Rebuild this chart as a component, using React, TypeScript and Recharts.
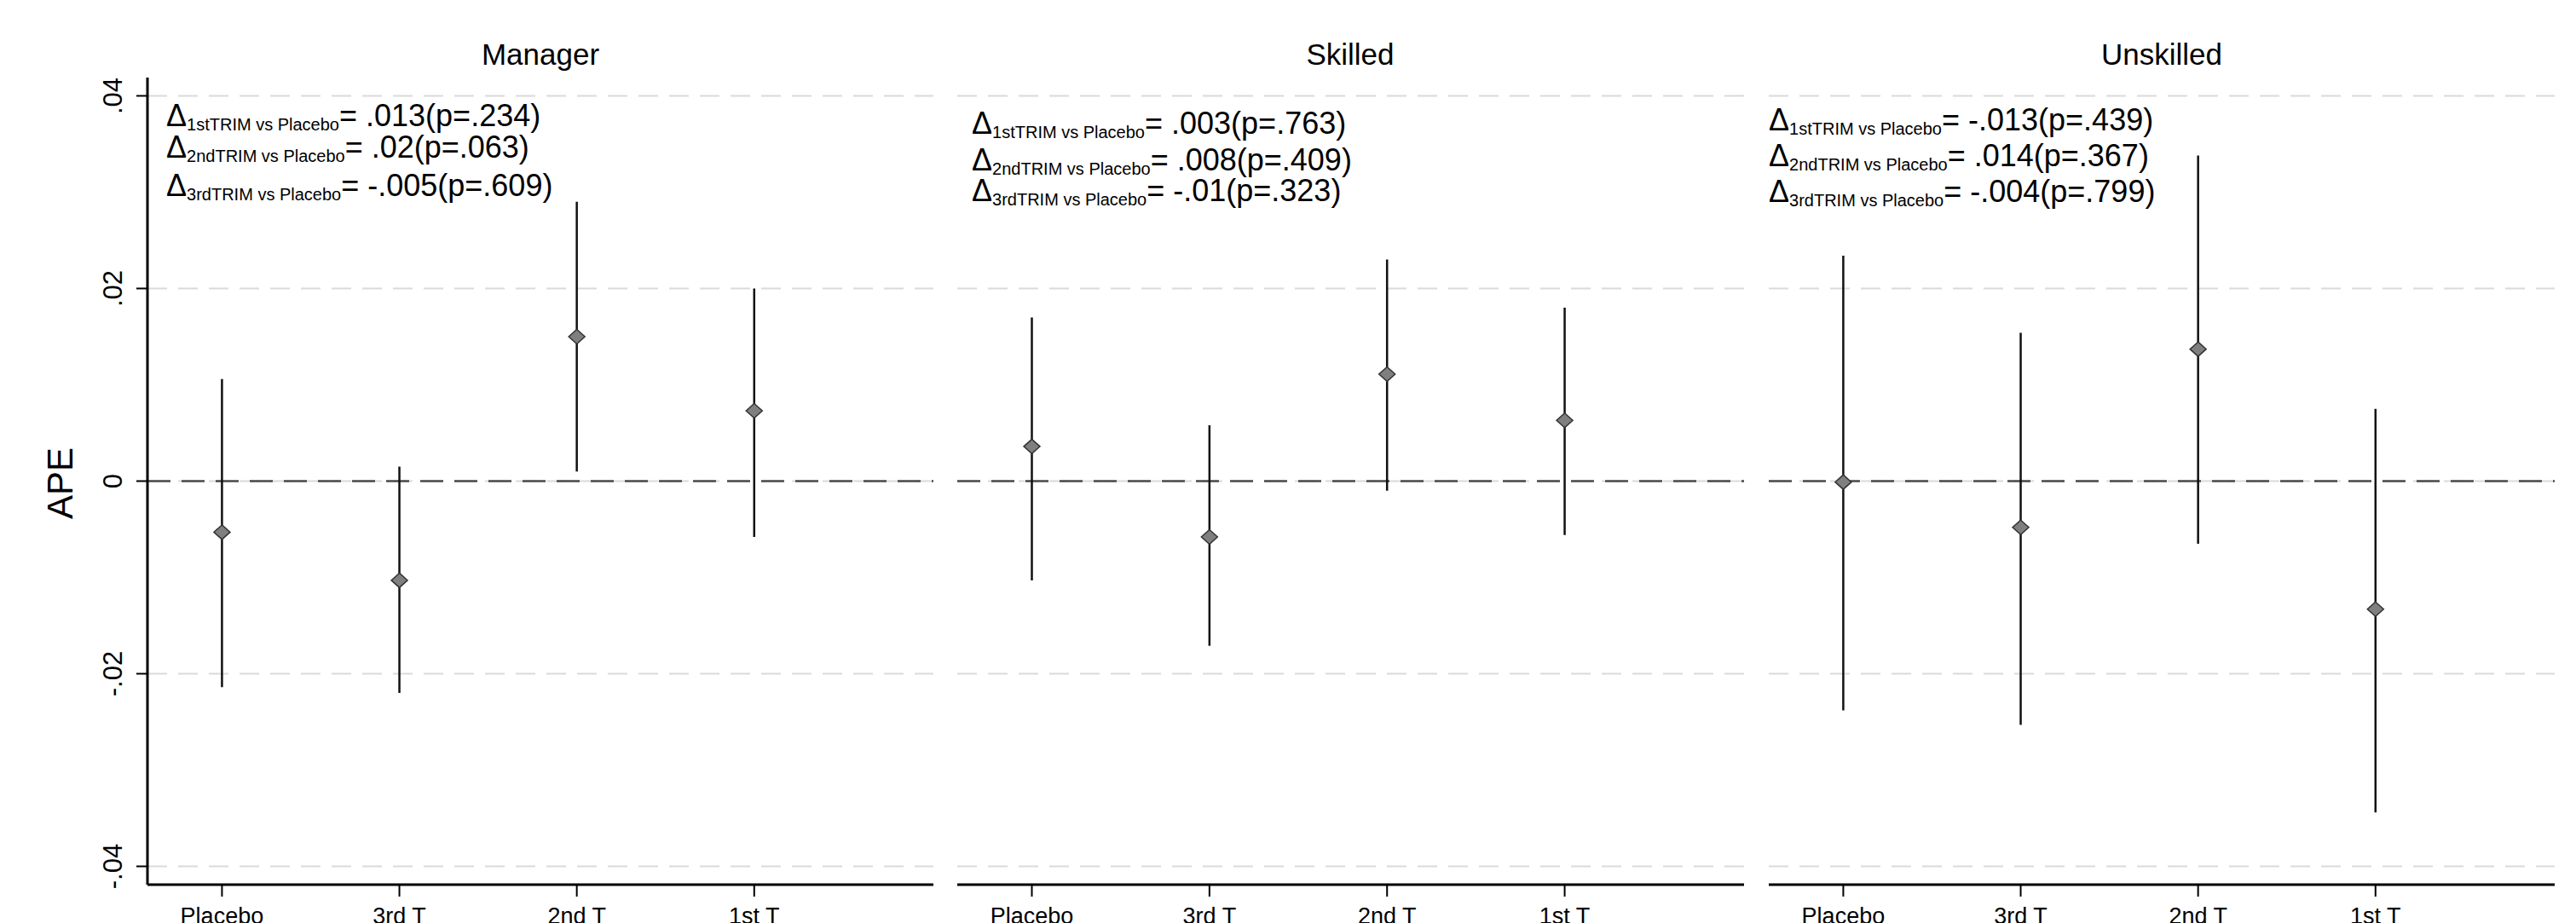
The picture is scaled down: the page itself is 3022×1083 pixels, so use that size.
import React from "react";
import {
  ComposedChart,
  Scatter,
  ErrorBar,
  XAxis,
  YAxis,
  CartesianGrid,
  ReferenceLine,
} from "recharts";

// ---------- data ----------
const categories = ["Placebo", "3rd T", "2nd T", "1st T"];
const categoryPositions = [1, 2, 3, 4];
const yTicks = [-0.04, -0.02, 0, 0.02, 0.04];
const yTickLabels = ["-.04", "-.02", "0", ".02", ".04"];

const panelTitles = ["Manager", "Skilled", "Unskilled"];

const managerAPE = [-0.0053, -0.0103, 0.015, 0.0073];
const managerLo = [-0.0214, -0.022, 0.001, -0.0058];
const managerHi = [0.0106, 0.0015, 0.029, 0.02];

const skilledAPE = [0.0036, -0.0058, 0.0111, 0.0063];
const skilledLo = [-0.0103, -0.0171, -0.001, -0.0056];
const skilledHi = [0.017, 0.0058, 0.023, 0.018];

const unskilledAPE = [-0.0001, -0.0048, 0.0137, -0.0133];
const unskilledLo = [-0.0238, -0.0253, -0.0065, -0.0344];
const unskilledHi = [0.0234, 0.0154, 0.0338, 0.0075];

const contrastLabels = ["1stTRIM vs Placebo", "2ndTRIM vs Placebo", "3rdTRIM vs Placebo"];
const managerDelta = [0.013, 0.02, -0.005];
const managerP = [0.234, 0.063, 0.609];
const skilledDelta = [0.003, 0.008, -0.01];
const skilledP = [0.763, 0.409, 0.323];
const unskilledDelta = [-0.013, 0.014, -0.004];
const unskilledP = [0.439, 0.367, 0.799];

// ---------- layout / style ----------
const FONT = "'Liberation Sans', Arial, Helvetica, sans-serif";
const H = 1083;
const PLOT_TOP = 91;
const XAXIS_H = 45;
const X_DOMAIN: [number, number] = [0.58, 5.01];
const Y_DOMAIN: [number, number] = [-0.0419, 0.0419];

const panelLayout = [
  { left: 0, width: 1110, marginLeft: 0, marginRight: 15, yAxisWidth: 173, textX: 195, textY: [148, 185, 230] },
  { left: 1110, width: 950, marginLeft: 13, marginRight: 14, yAxisWidth: 0, textX: 1140, textY: [157, 200, 236] },
  { left: 2062, width: 960, marginLeft: 13, marginRight: 25, yAxisWidth: 0, textX: 2075, textY: [153, 195, 237] },
];

const fmt = (v: number) => (v < 0 ? "-" : "") + String(Math.abs(v)).replace(/^0/, "");

const buildRows = (ape: number[], lo: number[], hi: number[]) =>
  categoryPositions.map((x, i) => ({
    x,
    y: ape[i],
    err: [ape[i] - lo[i], hi[i] - ape[i]],
  }));

const panels = [
  { rows: buildRows(managerAPE, managerLo, managerHi), delta: managerDelta, p: managerP },
  { rows: buildRows(skilledAPE, skilledLo, skilledHi), delta: skilledDelta, p: skilledP },
  { rows: buildRows(unskilledAPE, unskilledLo, unskilledHi), delta: unskilledDelta, p: unskilledP },
];

const Diamond = (props: any) => {
  const { cx, cy } = props;
  if (cx == null || cy == null) return null;
  return (
    <polygon
      points={`${cx},${cy - 8.5} ${cx + 9.5},${cy} ${cx},${cy + 8.5} ${cx - 9.5},${cy}`}
      fill="#7f7f7f"
      stroke="#333"
      strokeWidth={1.5}
    />
  );
};

const XTick = (props: any) => {
  const { x, y, payload } = props;
  const idx = categoryPositions.indexOf(payload.value);
  return (
    <text x={x} y={y + 30} textAnchor="middle" fontSize={27} fontFamily={FONT} fill="#000">
      {categories[idx]}
    </text>
  );
};

const YTick = (props: any) => {
  const { x, y, payload } = props;
  const idx = yTicks.indexOf(payload.value);
  const bx = x - 15;
  return (
    <text
      x={bx}
      y={y}
      transform={`rotate(-90 ${bx} ${y})`}
      textAnchor="middle"
      fontSize={31}
      fontFamily={FONT}
      fill="#000"
    >
      {yTickLabels[idx]}
    </text>
  );
};

const Panel = ({ idx }: { idx: number }) => {
  const L = panelLayout[idx];
  const P = panels[idx];
  return (
    <div style={{ position: "absolute", left: L.left, top: 0, width: L.width, height: H }}>
      <ComposedChart
        width={L.width}
        height={H}
        data={P.rows}
        margin={{ top: PLOT_TOP, right: L.marginRight, bottom: 0, left: L.marginLeft }}
      >
        <CartesianGrid
          horizontal
          vertical={false}
          horizontalValues={yTicks}
          stroke="#dadada"
          strokeWidth={2}
          strokeDasharray="23 13"
        />
        <XAxis
          type="number"
          dataKey="x"
          domain={X_DOMAIN}
          ticks={categoryPositions}
          interval={0}
          allowDataOverflow
          height={XAXIS_H}
          axisLine={{ stroke: "#000", strokeWidth: 3 }}
          tickLine={{ stroke: "#000", strokeWidth: 2 }}
          tickSize={14}
          tick={<XTick />}
        />
        <YAxis
          type="number"
          domain={Y_DOMAIN}
          ticks={yTicks}
          interval={0}
          allowDataOverflow
          width={L.yAxisWidth}
          hide={idx > 0}
          axisLine={{ stroke: "#000", strokeWidth: 3 }}
          tickLine={{ stroke: "#000", strokeWidth: 2 }}
          tickSize={13}
          tick={<YTick />}
        />
        <ReferenceLine y={0} stroke="#4a4a4a" strokeWidth={2.5} strokeDasharray="27 13" />
        <Scatter dataKey="y" shape={<Diamond />} isAnimationActive={false}>
          <ErrorBar dataKey="err" direction="y" width={0} stroke="#111" strokeWidth={2.5} isAnimationActive={false} />
        </Scatter>
      </ComposedChart>
    </div>
  );
};

const titleCenters = [634, 1584, 2536];

export default function App() {
  return (
    <div
      style={{
        position: "absolute",
        left: 0,
        top: 0,
        width: 3022,
        height: H,
        background: "#fff",
        overflow: "hidden",
      }}
    >
      {[0, 1, 2].map((i) => (
        <Panel key={i} idx={i} />
      ))}
      <svg
        width={3022}
        height={H}
        style={{ position: "absolute", left: 0, top: 0, pointerEvents: "none" }}
      >
        <text
          x={85}
          y={567}
          transform="rotate(-90 85 567)"
          textAnchor="middle"
          fontSize={42}
          fontFamily={FONT}
          fill="#000"
        >
          APE
        </text>
        {panelTitles.map((t, i) => (
          <text key={t} x={titleCenters[i]} y={76} textAnchor="middle" fontSize={35} fontFamily={FONT} fill="#000">
            {t}
          </text>
        ))}
        {panels.map((P, i) =>
          contrastLabels.map((c, k) => (
            <text
              key={`${i}-${k}`}
              x={panelLayout[i].textX}
              y={panelLayout[i].textY[k]}
              fontSize={36}
              fontFamily={FONT}
              fill="#000"
            >
              Δ
              <tspan fontSize={20} dy={5}>
                {c}
              </tspan>
              <tspan dy={-5}>{`= ${fmt(P.delta[k])}(p=${fmt(P.p[k])})`}</tspan>
            </text>
          ))
        )}
      </svg>
    </div>
  );
}
